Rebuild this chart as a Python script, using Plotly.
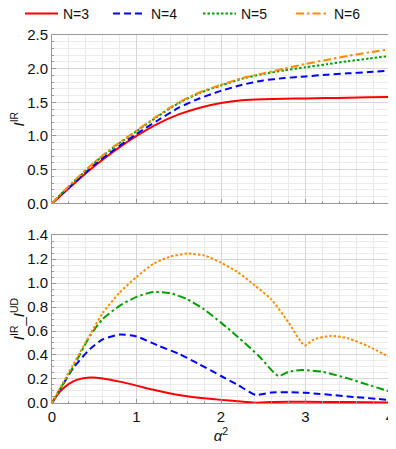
import plotly.graph_objects as go

# ---------------- data ----------------
series_names = ["N=3", "N=4", "N=5", "N=6"]

x_top = [0, 0.1, 0.25, 0.5, 0.75, 1.0, 1.25, 1.5, 1.75, 2.0, 2.25, 2.5, 2.75, 3.0, 3.25, 3.5, 3.75, 4.0]
red_top = [0, 0.11, 0.28, 0.55, 0.79, 1.00, 1.18, 1.32, 1.42, 1.49, 1.53, 1.545, 1.552, 1.558, 1.563, 1.568, 1.574, 1.58]
blue_top = [0, 0.12, 0.29, 0.57, 0.81, 1.03, 1.23, 1.42, 1.56, 1.67, 1.76, 1.825, 1.86, 1.885, 1.91, 1.93, 1.95, 1.97]
green_top = [0, 0.13, 0.31, 0.60, 0.85, 1.07, 1.29, 1.49, 1.64, 1.75, 1.85, 1.92, 1.975, 2.02, 2.065, 2.11, 2.15, 2.19]
orange_top = [0, 0.13, 0.32, 0.61, 0.86, 1.08, 1.30, 1.50, 1.65, 1.76, 1.86, 1.93, 2.00, 2.07, 2.13, 2.19, 2.24, 2.29]

red_bx = [0, 0.05, 0.1, 0.2, 0.3, 0.45, 0.6, 0.8, 1.0, 1.2, 1.4, 1.6, 1.8, 2.0, 2.2, 2.4, 2.6, 3.0, 3.5, 4.0]
red_b = [0, 0.055, 0.10, 0.16, 0.195, 0.212, 0.205, 0.178, 0.145, 0.11, 0.08, 0.057, 0.04, 0.026, 0.014, 0.003, 0.008, 0.01, 0.008, 0.005]

blue_bx = [0, 0.1, 0.25, 0.45, 0.6, 0.8, 1.0, 1.25, 1.5, 1.75, 2.0, 2.2, 2.41, 2.6, 2.8, 3.0, 3.5, 4.0]
blue_b = [0, 0.12, 0.29, 0.45, 0.53, 0.57, 0.555, 0.48, 0.41, 0.32, 0.225, 0.15, 0.068, 0.088, 0.09, 0.085, 0.055, 0.025]

green_bx = [0, 0.1, 0.25, 0.45, 0.6, 0.8, 1.0, 1.2, 1.4, 1.6, 1.8, 2.0, 2.2, 2.45, 2.68, 2.8, 2.95, 3.2, 3.5, 3.75, 4.0]
green_b = [0, 0.12, 0.30, 0.56, 0.70, 0.81, 0.885, 0.925, 0.915, 0.865, 0.78, 0.67, 0.55, 0.39, 0.225, 0.26, 0.275, 0.26, 0.205, 0.15, 0.095]

orange_bx = [0, 0.1, 0.25, 0.45, 0.6, 0.8, 1.0, 1.2, 1.4, 1.6, 1.8, 2.0, 2.2, 2.4, 2.6, 2.8, 2.99, 3.1, 3.3, 3.5, 3.75, 4.0]
orange_b = [0, 0.13, 0.32, 0.57, 0.75, 0.92, 1.05, 1.16, 1.22, 1.245, 1.23, 1.17, 1.09, 0.98, 0.86, 0.67, 0.48, 0.53, 0.56, 0.54, 0.47, 0.38]

x_ticks = [0, 1, 2, 3, 4]
top_ticks = [0.0, 0.5, 1.0, 1.5, 2.0, 2.5]
bot_ticks = [0.0, 0.2, 0.4, 0.6, 0.8, 1.0, 1.2, 1.4]

# ---------------- styles ----------------
RED, BLUE, GREEN, ORANGE = "#ff0000", "#0000ff", "#00a000", "#ff8c00"
DOT = "2.5px,2px"
DASH = "7px,4px"
DASHDOT = "8px,3px,2.5px,3px"
FONT = "Liberation Sans, Arial, sans-serif"
W, H = 388, 441   # page body has an 8px default margin
LEGEND_IDS = ["legend", "legend2", "legend3", "legend4"]
LEGEND_LEFT_PX = [12, 100, 190, 283]

fig = go.Figure()

def add(x, y, color, dash, i, xa, ya, show):
    fig.add_trace(go.Scatter(
        x=x, y=y, mode="lines", name=series_names[i], showlegend=show,
        legend=LEGEND_IDS[i],
        line=dict(color=color, width=2, dash=dash, shape="spline", smoothing=0.6),
        xaxis=xa, yaxis=ya))

add(x_top, red_top, RED, "solid", 0, "x", "y", True)
add(x_top, blue_top, BLUE, DASH, 1, "x", "y", True)
add(x_top, green_top, GREEN, DOT, 2, "x", "y", True)
add(x_top, orange_top, ORANGE, DASHDOT, 3, "x", "y", True)

add(red_bx, red_b, RED, "solid", 0, "x2", "y2", False)
add(blue_bx, blue_b, BLUE, DASH, 1, "x2", "y2", False)
add(green_bx, green_b, GREEN, DASHDOT, 2, "x2", "y2", False)
add(orange_bx, orange_b, ORANGE, DOT, 3, "x2", "y2", False)

axis_common = dict(
    showline=True, mirror=True, linecolor="#999999", linewidth=1,
    showgrid=True, gridcolor="#d6d6d6", gridwidth=1, automargin=False,
    zeroline=False, ticks="inside", ticklen=4, tickcolor="#999999",
    ticklabeloverflow="allow",
    tickfont=dict(family=FONT, size=15, color="#111111"),
)
minor_common = dict(showgrid=True, gridcolor="#ebebeb", ticks="inside", ticklen=2, tickcolor="#999999")

legends = {}
for lid, left in zip(LEGEND_IDS, LEGEND_LEFT_PX):
    legends[lid] = dict(orientation="h", xref="container", yref="container",
                        x=left / W, xanchor="left", y=1 - 6 / H, yanchor="middle",
                        font=dict(family=FONT, size=14), itemwidth=33,
                        bgcolor="rgba(0,0,0,0)")

fig.update_layout(
    width=W, height=H,
    margin=dict(l=44, r=6, t=27, b=46, autoexpand=False),
    paper_bgcolor="white", plot_bgcolor="white",
    font=dict(family=FONT, size=14, color="#111111"),
    showlegend=True,
    **legends,
    xaxis=dict(axis_common, domain=[0, 1], anchor="y", range=[0, 4],
               tickvals=x_ticks, showticklabels=False,
               minor=dict(minor_common, dtick=0.2, tick0=0)),
    yaxis=dict(axis_common, domain=[0.5427, 1.0], anchor="x", range=[0, 2.5],
               tickvals=top_ticks, tickformat=".1f",
               minor=dict(minor_common, dtick=0.1, tick0=0),
               title=dict(text="<i>I</i><sup>IR</sup>", standoff=11,
                          font=dict(family=FONT, size=15))),
    xaxis2=dict(axis_common, domain=[0, 1], anchor="y2", range=[0, 4],
                tickvals=x_ticks, tickformat="d",
                minor=dict(minor_common, dtick=0.2, tick0=0),
                title=dict(text="<i>α</i><sup>2</sup>", standoff=2,
                           font=dict(family=FONT, size=15))),
    yaxis2=dict(axis_common, domain=[0.0, 0.4565], anchor="x2", range=[0, 1.4],
                tickvals=bot_ticks, tickformat=".1f",
                minor=dict(minor_common, dtick=0.05, tick0=0),
                title=dict(text="<i>I</i><sup>IR</sup>_<i>I</i><sup>UD</sup>", standoff=11,
                           font=dict(family=FONT, size=15))),
)

fig.write_html("out.html")
